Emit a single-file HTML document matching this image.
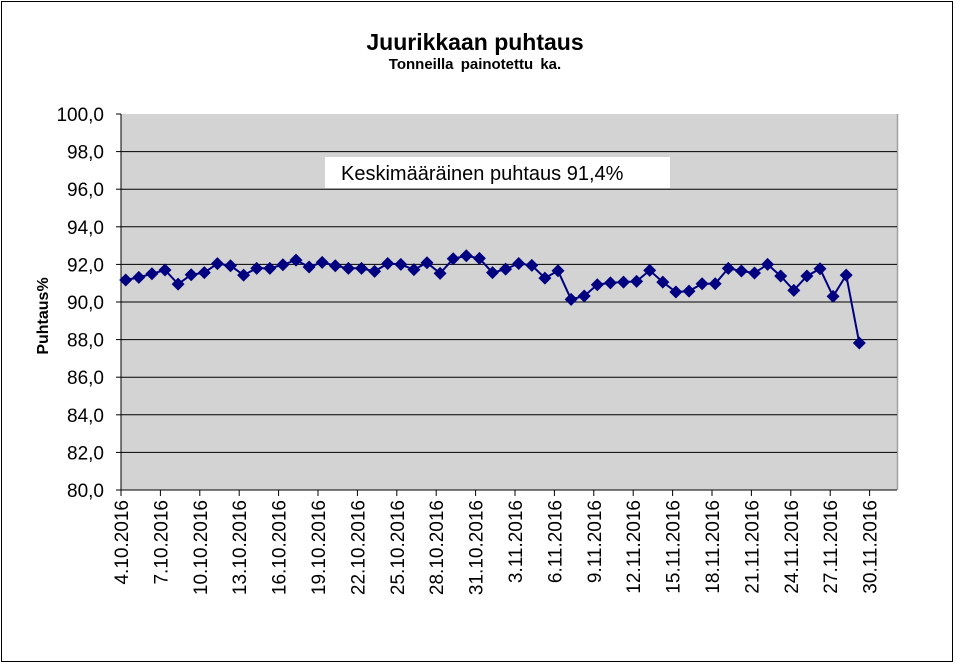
<!DOCTYPE html>
<html><head><meta charset="utf-8"><style>
html,body{margin:0;padding:0;background:#fff;}
svg{display:block;font-family:"Liberation Sans",Arial,sans-serif;}
</style></head><body>
<svg width="955" height="664" viewBox="0 0 955 664" xmlns="http://www.w3.org/2000/svg">
<rect x="1.5" y="1.5" width="951" height="660" fill="#fff" stroke="#000" stroke-width="1"/>
<text x="475" y="50" text-anchor="middle" font-size="23" font-weight="bold">Juurikkaan puhtaus</text>
<text x="475" y="69" text-anchor="middle" font-size="15" font-weight="bold" word-spacing="3">Tonneilla painotettu ka.</text>
<rect x="121" y="114" width="776" height="376" fill="#d3d3d3"/>
<line x1="897.5" y1="114" x2="897.5" y2="490" stroke="#a0a0a0" stroke-width="1.5"/>
<g stroke="#000" stroke-width="1">
<line x1="121" y1="151.6" x2="897" y2="151.6"/>
<line x1="121" y1="189.2" x2="897" y2="189.2"/>
<line x1="121" y1="226.8" x2="897" y2="226.8"/>
<line x1="121" y1="264.4" x2="897" y2="264.4"/>
<line x1="121" y1="302" x2="897" y2="302"/>
<line x1="121" y1="339.6" x2="897" y2="339.6"/>
<line x1="121" y1="377.2" x2="897" y2="377.2"/>
<line x1="121" y1="414.8" x2="897" y2="414.8"/>
<line x1="121" y1="452.4" x2="897" y2="452.4"/>
<line x1="121" y1="490" x2="897" y2="490"/>
<line x1="121" y1="114" x2="121" y2="490"/>
<line x1="116" y1="114" x2="121" y2="114"/><line x1="116" y1="151.6" x2="121" y2="151.6"/><line x1="116" y1="189.2" x2="121" y2="189.2"/><line x1="116" y1="226.8" x2="121" y2="226.8"/><line x1="116" y1="264.4" x2="121" y2="264.4"/><line x1="116" y1="302" x2="121" y2="302"/><line x1="116" y1="339.6" x2="121" y2="339.6"/><line x1="116" y1="377.2" x2="121" y2="377.2"/><line x1="116" y1="414.8" x2="121" y2="414.8"/><line x1="116" y1="452.4" x2="121" y2="452.4"/><line x1="116" y1="490" x2="121" y2="490"/>
</g>
<g font-size="19" text-anchor="end">
<text x="104" y="121">100,0</text><text x="104" y="158.6">98,0</text><text x="104" y="196.2">96,0</text><text x="104" y="233.8">94,0</text><text x="104" y="271.4">92,0</text><text x="104" y="309">90,0</text><text x="104" y="346.6">88,0</text><text x="104" y="384.2">86,0</text><text x="104" y="421.8">84,0</text><text x="104" y="459.4">82,0</text><text x="104" y="497">80,0</text>
</g>
<text transform="translate(48,316) rotate(-90)" text-anchor="middle" font-size="16" font-weight="bold">Puhtaus%</text>
<rect x="325" y="157" width="345" height="31" fill="#fff"/>
<text x="341" y="180" font-size="20">Keskimääräinen puhtaus 91,4%</text>
<script>
var ns="http://www.w3.org/2000/svg",svg=document.querySelector('svg');
var labels=["4.10.2016","7.10.2016","10.10.2016","13.10.2016","16.10.2016","19.10.2016","22.10.2016","25.10.2016","28.10.2016","31.10.2016","3.11.2016","6.11.2016","9.11.2016","12.11.2016","15.11.2016","18.11.2016","21.11.2016","24.11.2016","27.11.2016","30.11.2016"];
for(var k=0;k<20;k++){var x=121+39.4*k;var l=document.createElementNS(ns,'line');l.setAttribute('x1',x);l.setAttribute('x2',x);l.setAttribute('y1',490);l.setAttribute('y2',496);l.setAttribute('stroke','#000');svg.appendChild(l);
var t=document.createElementNS(ns,'text');t.setAttribute('transform','translate('+(x+7)+',500) rotate(-90)');t.setAttribute('text-anchor','end');t.setAttribute('font-size','19');t.textContent=labels[k];svg.appendChild(t);}
var v=[91.17,91.31,91.50,91.70,90.95,91.45,91.56,92.04,91.93,91.43,91.79,91.79,91.98,92.23,91.86,92.11,91.93,91.79,91.79,91.63,92.05,92.0,91.72,92.09,91.52,92.30,92.46,92.32,91.56,91.75,92.05,91.95,91.27,91.66,90.14,90.32,90.92,91.02,91.06,91.10,91.68,91.06,90.53,90.58,90.97,90.97,91.79,91.65,91.54,92.0,91.38,90.62,91.38,91.77,90.30,91.43,87.82];
var pts=v.map(function(a,i){return [125.7+13.1*i,490-(a-80)*18.8];});
var pl=document.createElementNS(ns,'polyline');pl.setAttribute('points',pts.map(function(p){return p[0].toFixed(1)+','+p[1].toFixed(1)}).join(' '));pl.setAttribute('fill','none');pl.setAttribute('stroke','#000080');pl.setAttribute('stroke-width','2');svg.appendChild(pl);
pts.forEach(function(p){var d=document.createElementNS(ns,'polygon');var s=6.5;d.setAttribute('points',p[0]+','+(p[1]-s)+' '+(p[0]+s)+','+p[1]+' '+p[0]+','+(p[1]+s)+' '+(p[0]-s)+','+p[1]);d.setAttribute('fill','#000080');svg.appendChild(d);});
</script>
</svg>
</body></html>
